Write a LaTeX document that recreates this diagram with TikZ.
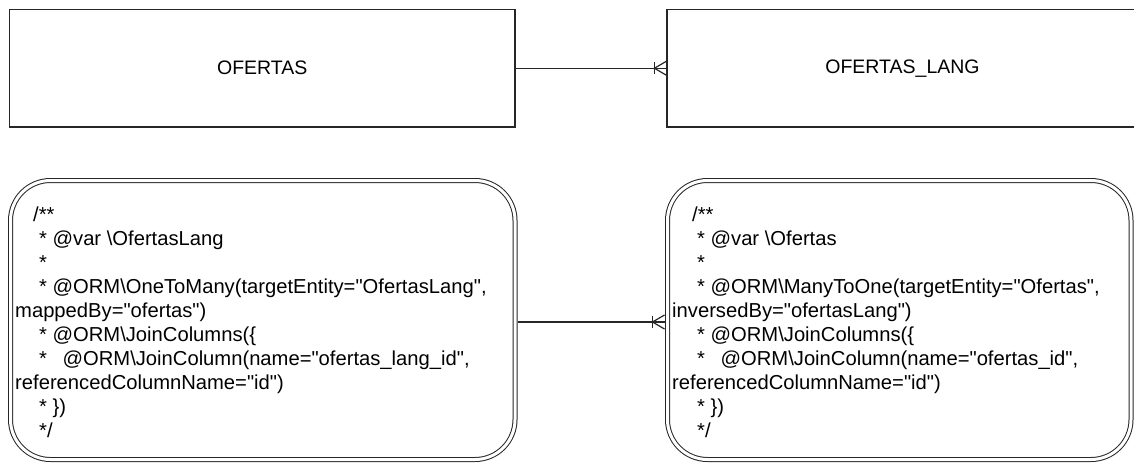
\documentclass[tikz,border=0pt]{standalone}
\usepackage{fontspec}
\setmainfont{Liberation Sans}[Ligatures=TeXOff]
\usetikzlibrary{calc}
\begin{document}
\begin{tikzpicture}[x=1pt,y=-1pt,
  entity/.style={draw=black!85, line width=1.2pt, inner sep=0pt,
    font=\fontsize{19.5}{24}\selectfont},
  notebox/.style={draw=black!85, line width=1pt, double=white,
    double distance=3pt, rounded corners=40pt, inner sep=0pt},
  notetext/.style={inner sep=0pt, anchor=base west,
    font=\fontsize{20.2}{24}\selectfont},
  conn/.style={draw=black!85, line width=1.2pt}]
\useasboundingbox (0,0) rectangle (1134,463);
\clip (0,0) rectangle (1134,463);

% entities
\node[entity, minimum width=505.5pt, minimum height=117.5pt] (ofertas) at (262.25,68.25) {OFERTAS};
\node[entity, minimum width=471pt, minimum height=117.5pt] (lang) at (902.5,68.25) {OFERTAS\_LANG};

% annotation boxes
\node[notebox, minimum width=504.5pt, minimum height=279pt] (bl) at (262.75,320) {};
\node[notebox, minimum width=463.5pt, minimum height=279pt] (br) at (899.25,320) {};

\node[notetext] (bltext) at (15,221) {\begin{tabular}[t]{@{}l@{}}
\hspace*{18pt}/**\\
\hspace*{24pt}* @var \textbackslash OfertasLang\\
\hspace*{24pt}*\\
\hspace*{24pt}* @ORM\textbackslash OneToMany(targetEntity="OfertasLang",\\
mappedBy="ofertas")\\
\hspace*{24pt}* @ORM\textbackslash JoinColumns(\{\\
\hspace*{24pt}*\hspace*{10pt} @ORM\textbackslash JoinColumn(name="ofertas\_lang\_id",\\
referencedColumnName="id")\\
\hspace*{24pt}* \})\\
\hspace*{24pt}*/
\end{tabular}};

\node[notetext] (brtext) at (672,221) {\begin{tabular}[t]{@{}l@{}}
\hspace*{20pt}/**\\
\hspace*{25pt}* @var \textbackslash Ofertas\\
\hspace*{25pt}*\\
\hspace*{25pt}* @ORM\textbackslash ManyToOne(targetEntity="Ofertas",\\
inversedBy="ofertasLang")\\
\hspace*{25pt}* @ORM\textbackslash JoinColumns(\{\\
\hspace*{25pt}*\hspace*{10pt} @ORM\textbackslash JoinColumn(name="ofertas\_id",\\
referencedColumnName="id")\\
\hspace*{25pt}* \})\\
\hspace*{25pt}*/
\end{tabular}};

% one-to-many connectors
\draw[conn] (ofertas.east) -- (lang.west);
\draw[conn] ($(lang.west)+(-12,-6)$) -- ($(lang.west)+(-12,6)$);
\draw[conn] ($(lang.west)+(0,-7)$) -- ($(lang.west)+(-12,0)$) -- ($(lang.west)+(0,7)$);

\coordinate (bla) at ($(bl.east)+(2.5,2)$);
\coordinate (bra) at ($(br.west)+(-2.5,2)$);
\draw[conn] (bla) -- (bra);
\draw[conn] ($(bra)+(-12,-6)$) -- ($(bra)+(-12,6)$);
\draw[conn] ($(bra)+(0,-7)$) -- ($(bra)+(-12,0)$) -- ($(bra)+(0,7)$);
\end{tikzpicture}
\end{document}
